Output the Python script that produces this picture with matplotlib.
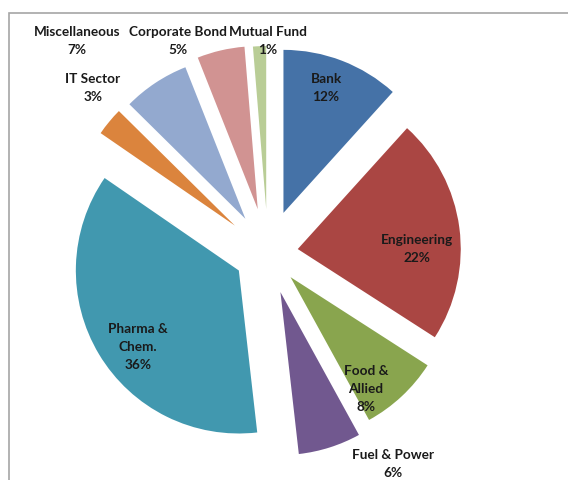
import matplotlib
matplotlib.use("Agg")
import matplotlib.pyplot as plt
from matplotlib.patches import Rectangle

# Sectors, clockwise from 12 o'clock
sectors = ["Bank", "Engineering", "Food &\nAllied", "Fuel & Power", "Pharma &\nChem.",
           "IT Sector", "Miscellaneous", "Corporate Bond", "Mutual Fund"]
shares = [11.7, 22.4, 7.9, 6.2, 36.4, 2.8, 6.6, 4.7, 1.3]
colors = ["#4572A7", "#AA4643", "#89A54E", "#71588F", "#4198AF",
          "#DB843D", "#93A9CF", "#D19392", "#B9CD96"]

W, H = 568, 481
fig = plt.figure(figsize=(W / 100, H / 100), dpi=100)
ax = fig.add_axes([0, 0, 1, 1])

# pie drawn in pixel-like units (y up)
cx, cy, r = 268, H - 254, 163
explode = [43, 30, 33, 41, 34, 43, 41, 45, 44]

wedges, _ = ax.pie(shares, colors=colors, startangle=90, counterclock=False,
                   radius=r, center=(cx, cy), explode=explode,
                   wedgeprops=dict(linewidth=0))

ax.set_xlim(0, W)
ax.set_ylim(0, H)
ax.set_aspect("equal")
ax.axis("off")

# label positions (pixel coordinates from top-left), Excel-style manual placement
label_pos = [(326, 88), (417, 249), (366, 389), (393, 464), (138, 347),
             (93, 88), (77, 41), (178, 41), (268, 41)]

total = sum(shares)
for name, val, (lx, ly) in zip(sectors, shares, label_pos):
    ax.text(lx, H - ly, f"{name}\n{val / total * 100:.0f}%", ha="center", va="center",
            fontsize=9.8, fontweight="bold", family=["Lato", "DejaVu Sans"],
            color="#1a1a1a", linespacing=1.6)

# chart area border (cut by the image edge on the right and bottom)
fig.add_artist(Rectangle((9 / W, -0.1), 1.2, (H - 14) / H + 0.1,
                         transform=fig.transFigure, fill=False,
                         edgecolor="#A6A6A6", linewidth=1.2))

fig.savefig("out.png", dpi=100)
